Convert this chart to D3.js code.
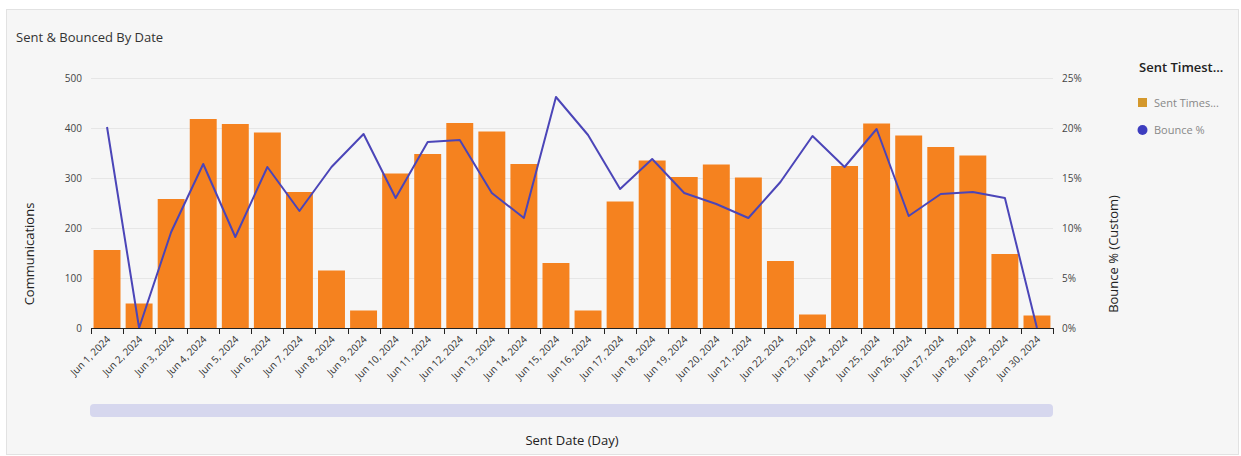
<!DOCTYPE html>
<html>
<head>
<meta charset="utf-8">
<script src="https://cdn.jsdelivr.net/npm/d3@7"></script>
<style>
  html, body { margin: 0; padding: 0; background: #ffffff; }
  svg { display: block; font-family: "Open Sans", "Noto Sans", sans-serif; }
</style>
</head>
<body>
<svg id="chart" width="1241" height="456"></svg>
<script>
// Daily sends and bounce rate, June 2024
const days = [
  "Jun 1, 2024","Jun 2, 2024","Jun 3, 2024","Jun 4, 2024","Jun 5, 2024",
  "Jun 6, 2024","Jun 7, 2024","Jun 8, 2024","Jun 9, 2024","Jun 10, 2024",
  "Jun 11, 2024","Jun 12, 2024","Jun 13, 2024","Jun 14, 2024","Jun 15, 2024",
  "Jun 16, 2024","Jun 17, 2024","Jun 18, 2024","Jun 19, 2024","Jun 20, 2024",
  "Jun 21, 2024","Jun 22, 2024","Jun 23, 2024","Jun 24, 2024","Jun 25, 2024",
  "Jun 26, 2024","Jun 27, 2024","Jun 28, 2024","Jun 29, 2024","Jun 30, 2024"
];
const sent = [
  156, 49, 258, 418, 408, 391, 272, 115, 35, 309,
  348, 410, 393, 328, 130, 35, 253, 335, 302, 327,
  301, 134, 27, 324, 409, 385, 362, 345, 148, 25
];
const bouncePct = [
  20.1, 0, 9.6, 16.4, 9.1, 16.1, 11.7, 16.1, 19.4, 13.0,
  18.6, 18.8, 13.5, 11.0, 23.1, 19.3, 13.9, 16.9, 13.5, 12.4,
  11.0, 14.6, 19.2, 16.1, 19.9, 11.2, 13.4, 13.6, 13.0, 0
];
const leftTicks = [0, 100, 200, 300, 400, 500];
const rightTicks = [0, 5, 10, 15, 20, 25];

const svg = d3.select("#chart");

// panel
svg.append("rect")
  .attr("x", 6.5).attr("y", 9.5).attr("width", 1232).attr("height", 445)
  .attr("fill", "#f6f6f6").attr("stroke", "#e2e2e2");

svg.append("text")
  .attr("x", 16).attr("y", 42)
  .attr("font-size", 13).attr("fill", "#333")
  .text("Sent & Bounced By Date");

const x = d3.scaleBand().domain(days).range([91, 1053])
  .paddingInner(0.16).paddingOuter(0.08);
const y = d3.scaleLinear().domain([0, 500]).range([328, 78]);
const y2 = d3.scaleLinear().domain([0, 25]).range([328, 78]);

// grid lines
svg.append("g").selectAll("line").data(leftTicks.slice(1)).join("line")
  .attr("x1", 91).attr("x2", 1053)
  .attr("y1", d => y(d) + 0.5).attr("y2", d => y(d) + 0.5)
  .attr("stroke", "#e6e6e6").attr("stroke-width", 1);

// bars
svg.append("g").selectAll("rect").data(days).join("rect")
  .attr("x", d => x(d))
  .attr("width", x.bandwidth())
  .attr("y", (d, i) => y(sent[i]))
  .attr("height", (d, i) => y(0) - y(sent[i]))
  .attr("fill", "#f5821f");

// bounce line
const line = d3.line()
  .x((d, i) => x(days[i]) + x.bandwidth() / 2)
  .y(d => y2(d));
svg.append("path").datum(bouncePct)
  .attr("d", line)
  .attr("fill", "none")
  .attr("stroke", "#4b45b8")
  .attr("stroke-width", 2)
  .attr("stroke-linejoin", "round");

// x axis: ticks at day boundaries
const step = x.step();
const xAxisG = svg.append("g");
xAxisG.append("line")
  .attr("x1", 91).attr("x2", 1053).attr("y1", 328.5).attr("y2", 328.5)
  .attr("stroke", "#222");
const bounds = days.map(d => x(d) - x.paddingOuter() * step).concat([1053]);
xAxisG.selectAll("line.tk").data(bounds).join("line").attr("class", "tk")
  .attr("x1", d => Math.round(d) + 0.5).attr("x2", d => Math.round(d) + 0.5)
  .attr("y1", 328).attr("y2", 334)
  .attr("stroke", "#222");
xAxisG.selectAll("text").data(days).join("text")
  .attr("transform", d => `translate(${x(d) + x.bandwidth() / 2 + 4},${340}) rotate(-45)`)
  .attr("text-anchor", "end")
  .attr("font-size", 10)
  .attr("fill", "#333")
  .text(d => d);

// left axis labels
svg.append("g").selectAll("text").data(leftTicks).join("text")
  .attr("x", 82).attr("y", d => y(d) + 4)
  .attr("text-anchor", "end")
  .attr("font-size", 10).attr("fill", "#444")
  .text(d => d);

// right axis labels
svg.append("g").selectAll("text").data(rightTicks).join("text")
  .attr("x", 1062).attr("y", d => y2(d) + 4)
  .attr("text-anchor", "start")
  .attr("font-size", 10).attr("fill", "#444")
  .text(d => d + "%");

// axis titles
svg.append("text")
  .attr("transform", "translate(34,254) rotate(-90)")
  .attr("text-anchor", "middle")
  .attr("font-size", 13).attr("fill", "#222")
  .text("Communications");
svg.append("text")
  .attr("transform", "translate(1118,254) rotate(-90)")
  .attr("text-anchor", "middle")
  .attr("font-size", 13).attr("fill", "#222")
  .text("Bounce % (Custom)");
svg.append("text")
  .attr("x", 572).attr("y", 445)
  .attr("text-anchor", "middle")
  .attr("font-size", 13).attr("fill", "#222")
  .text("Sent Date (Day)");

// scroll bar
svg.append("rect")
  .attr("x", 90).attr("y", 404).attr("width", 963).attr("height", 13)
  .attr("rx", 4)
  .attr("fill", "#d6d7ee");

// legend
const lg = svg.append("g");
lg.append("text")
  .attr("x", 1139).attr("y", 72)
  .attr("font-size", 13).attr("font-weight", 600).attr("fill", "#222")
  .text("Sent Timest...");
lg.append("rect")
  .attr("x", 1138).attr("y", 98).attr("width", 9).attr("height", 9)
  .attr("fill", "#d4982c");
lg.append("text")
  .attr("x", 1154).attr("y", 107)
  .attr("font-size", 11).attr("fill", "#888")
  .text("Sent Times...");
lg.append("circle")
  .attr("cx", 1142.5).attr("cy", 130).attr("r", 5)
  .attr("fill", "#3d3dbf");
lg.append("text")
  .attr("x", 1154).attr("y", 134)
  .attr("font-size", 11).attr("fill", "#888")
  .text("Bounce %");
</script>
</body>
</html>
